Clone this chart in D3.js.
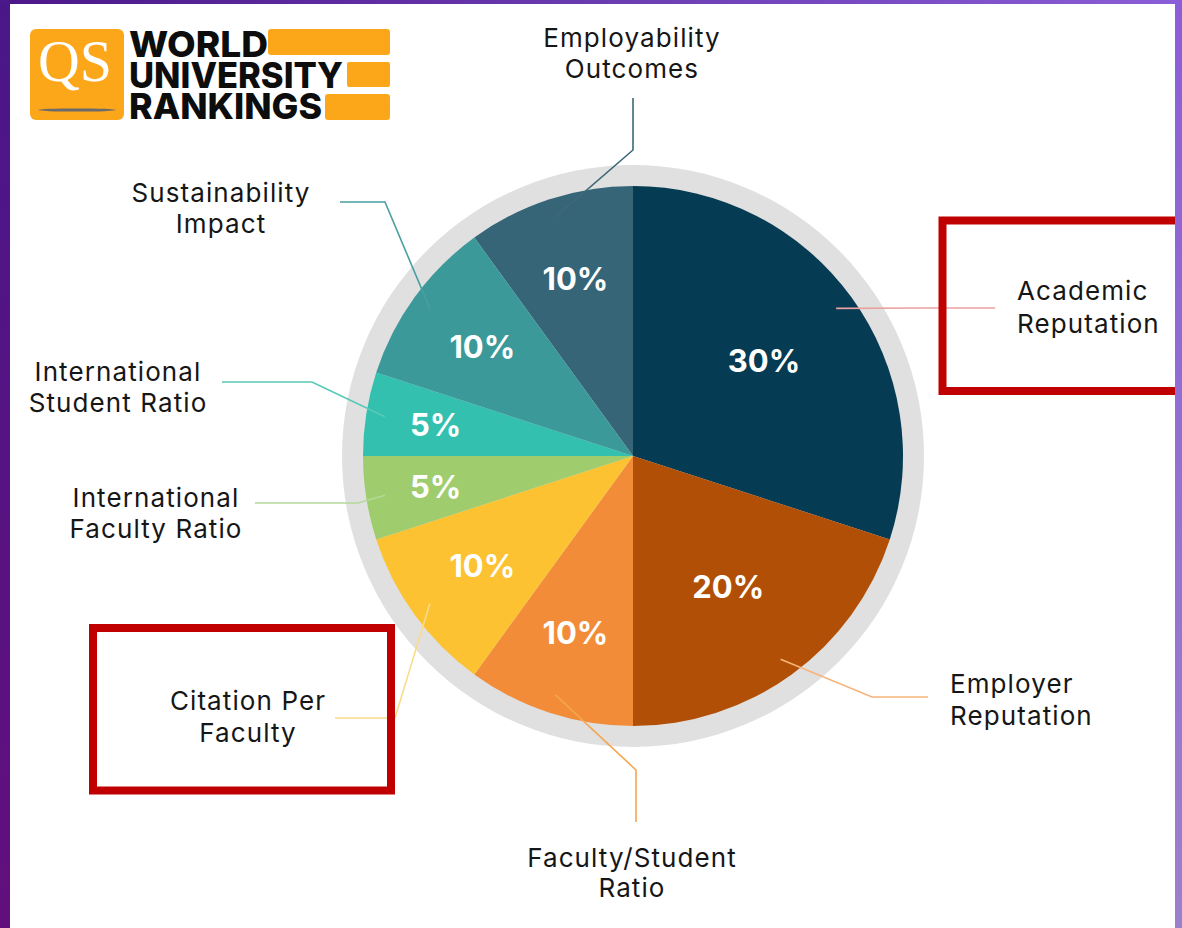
<!DOCTYPE html>
<html>
<head>
<meta charset="utf-8">
<script src="https://cdn.jsdelivr.net/npm/d3@7"></script>
<style>
  html, body { margin: 0; padding: 0; background: #ffffff; }
  svg { display: block; }
</style>
</head>
<body>
<svg id="chart" width="1182" height="928"></svg>
<script>
// ---- data ----
const categories = [
  "Employability Outcomes",
  "Academic Reputation",
  "Employer Reputation",
  "Faculty/Student Ratio",
  "Citation Per Faculty",
  "International Faculty Ratio",
  "International Student Ratio",
  "Sustainability Impact"
];
const weights = [10, 30, 20, 10, 10, 5, 5, 10];
const labelLines = [
  ["Employability", "Outcomes"],
  ["Academic", "Reputation"],
  ["Employer", "Reputation"],
  ["Faculty/Student", "Ratio"],
  ["Citation Per", "Faculty"],
  ["International", "Faculty Ratio"],
  ["International", "Student Ratio"],
  ["Sustainability", "Impact"]
];
const highlighted = ["Academic Reputation", "Citation Per Faculty"];
const logoWords = ["WORLD", "UNIVERSITY", "RANKINGS"];

// ---- styles ----
const sliceColors = ["#356576", "#053b53", "#b24f06", "#f28c39", "#fcc232", "#9fcd6d", "#33c0ae", "#3b9999"];
const leaderColors = ["#3f6878", "#eaa2a2", "#f6b47a", "#f5a650", "#f9dc8a", "#b5d89a", "#58c8b8", "#4a9ea0"];

// ---- layout ----
const W = 1182, H = 928;
const cx = 633, cy = 456, R = 270;
const labelLayout = [
  { x: 632, anchor: "middle", ys: [47, 78],   pts: [[633, 98], [633, 150]] },
  { x: 1017, anchor: "start", ys: [300, 333], pts: [[995, 308], [925, 308]] },
  { x: 950, anchor: "start",  ys: [693, 725], pts: [[928, 697], [872, 697]] },
  { x: 632, anchor: "middle", ys: [867, 897], pts: [[636, 822], [636, 770]] },
  { x: 248, anchor: "middle", ys: [710, 742], pts: [[335, 718], [395, 718]] },
  { x: 156, anchor: "middle", ys: [507, 538], pts: [[255, 503], [358, 503]] },
  { x: 118, anchor: "middle", ys: [381, 412], pts: [[222, 382], [312, 382]] },
  { x: 221, anchor: "middle", ys: [202, 233], pts: [[340, 202], [385, 202]] }
];
const boxes = {
  "Academic Reputation": { x: 942.5, y: 220.5, w: 300, h: 170.5 },
  "Citation Per Faculty": { x: 93, y: 628, w: 298, h: 162.5 }
};
const logoLayout = [
  { y: 57, w: 139 },
  { y: 88, w: 214 },
  { y: 119, w: 193 }
];

const svg = d3.select("#chart");
const defs = svg.append("defs");

// background frame
svg.append("rect").attr("x", 0).attr("y", 0).attr("width", W).attr("height", H).attr("fill", "#ffffff");
const gl = defs.append("linearGradient").attr("id", "gLeft").attr("x1", 0).attr("y1", 0).attr("x2", 0).attr("y2", 1);
gl.append("stop").attr("offset", 0).attr("stop-color", "#4a1789");
gl.append("stop").attr("offset", 1).attr("stop-color", "#620f7d");
const gt = defs.append("linearGradient").attr("id", "gTop").attr("x1", 0).attr("y1", 0).attr("x2", 1).attr("y2", 0);
gt.append("stop").attr("offset", 0).attr("stop-color", "#4b1789");
gt.append("stop").attr("offset", 1).attr("stop-color", "#8a5ed8");
const gr = defs.append("linearGradient").attr("id", "gRight").attr("x1", 0).attr("y1", 0).attr("x2", 0).attr("y2", 1);
gr.append("stop").attr("offset", 0).attr("stop-color", "#8a5ed8");
gr.append("stop").attr("offset", 1).attr("stop-color", "#9b80cc");

// ---- logo ----
const logo = svg.append("g");
const orange = "#fca71a";
logo.append("rect").attr("x", 30).attr("y", 29).attr("width", 94).attr("height", 91).attr("rx", 6).attr("fill", orange);
logo.append("text").attr("x", 75).attr("y", 81).attr("text-anchor", "middle")
  .attr("font-family", "'Liberation Serif', 'DejaVu Serif', serif").attr("font-size", 60)
  .attr("fill", "#ffffff").attr("textLength", 74).attr("lengthAdjust", "spacingAndGlyphs").text("QS");
logo.append("ellipse").attr("cx", 77).attr("cy", 110).attr("rx", 39).attr("ry", 1.6).attr("fill", "#6b6b6b");
logo.append("rect").attr("x", 268).attr("y", 29).attr("width", 122).attr("height", 26).attr("rx", 3).attr("fill", orange);
logo.append("rect").attr("x", 347).attr("y", 62).attr("width", 43).attr("height", 25).attr("rx", 2).attr("fill", orange);
logo.append("rect").attr("x", 325).attr("y", 94).attr("width", 65).attr("height", 26).attr("rx", 3).attr("fill", orange);
logoWords.forEach((t, k) => {
  const L = logoLayout[k];
  logo.append("text").attr("x", 129).attr("y", L.y)
    .attr("font-family", "Inter, 'Liberation Sans', sans-serif").attr("font-weight", 800)
    .attr("font-size", 36).attr("fill", "#0d0d0d")
    .attr("textLength", L.w).attr("lengthAdjust", "spacingAndGlyphs").text(t);
});

// ---- pie ----
const pie = d3.pie().sort(null).value(d => d)
  .startAngle(-Math.PI / 5).endAngle(2 * Math.PI - Math.PI / 5);
const arcsData = pie(weights);
const arc = d3.arc().innerRadius(0).outerRadius(R);
const leaderArc = d3.arc().innerRadius(R * 0.93).outerRadius(R * 0.93);
const pctArc = d => {
  const rr = d.data <= 5 ? R * 0.74 : (d.data <= 10 ? R * 0.69 : R * 0.6);
  return d3.arc().innerRadius(rr).outerRadius(rr).centroid(d);
};

const g = svg.append("g").attr("transform", `translate(${cx},${cy})`);
g.append("circle").attr("r", R + 21).attr("fill", "#e0e0e0");
g.selectAll("path.slice").data(arcsData).join("path")
  .attr("class", "slice")
  .attr("d", arc)
  .attr("fill", (d, i) => sliceColors[i]);

g.selectAll("text.pct").data(arcsData).join("text")
  .attr("class", "pct")
  .attr("transform", d => `translate(${pctArc(d)})`)
  .attr("text-anchor", "middle").attr("dy", "0.36em")
  .attr("font-family", "Inter, 'Open Sans', sans-serif").attr("font-weight", 700)
  .attr("font-size", 31).attr("fill", "#ffffff")
  .text(d => d.data + "%");

// ---- leaders ----
const line = d3.line();
svg.append("g").selectAll("path.leader").data(arcsData).join("path")
  .attr("class", "leader")
  .attr("d", (d, i) => {
    const c = leaderArc.centroid(d);
    const pts = labelLayout[i].pts.concat([[cx + c[0], cy + c[1]]]);
    return line(pts);
  })
  .attr("fill", "none").attr("stroke", (d, i) => leaderColors[i]).attr("stroke-width", 1.6);

// ---- category labels ----
const labels = svg.append("g");
categories.forEach((cat, i) => {
  const L = labelLayout[i];
  const t = labels.append("text").attr("text-anchor", L.anchor)
    .attr("font-family", "Inter, 'Noto Sans', sans-serif").attr("font-weight", 400)
    .attr("font-size", 26).attr("letter-spacing", 1.1).attr("fill", "#161616");
  labelLines[i].forEach((ln, k) => {
    t.append("tspan").attr("x", L.x).attr("y", L.ys[k]).text(ln);
  });
});

// ---- highlight boxes ----
highlighted.forEach(cat => {
  const b = boxes[cat];
  svg.append("rect").attr("x", b.x).attr("y", b.y).attr("width", b.w).attr("height", b.h)
    .attr("fill", "none").attr("stroke", "#c00000").attr("stroke-width", 8);
});

// frame strips on top
svg.append("rect").attr("x", 0).attr("y", 0).attr("width", 10).attr("height", H).attr("fill", "url(#gLeft)");
svg.append("rect").attr("x", 0).attr("y", 0).attr("width", W).attr("height", 4).attr("fill", "url(#gTop)");
svg.append("rect").attr("x", 1175).attr("y", 0).attr("width", 7).attr("height", H).attr("fill", "url(#gRight)");
</script>
</body>
</html>
